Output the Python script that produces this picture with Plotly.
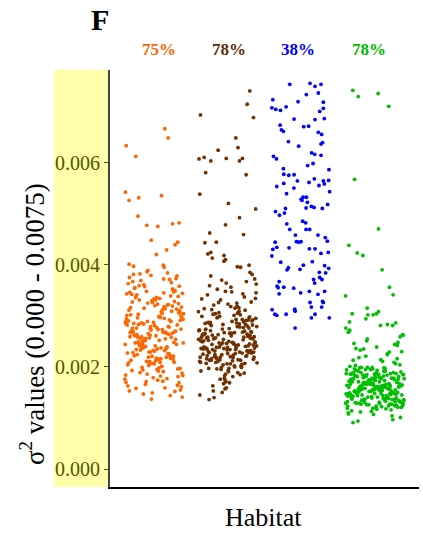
import plotly.graph_objects as go

# ---------------- data ----------------
percent_labels = ["75%", "78%", "38%", "78%"]

y_ticks = [0.000, 0.002, 0.004, 0.006]
y_tick_labels = ["0.000", "0.002", "0.004", "0.006"]

# habitat 1 (orange): scattered high values with their horizontal offsets
orange_sparse_dx = [0.145, 0.19, -0.38, -0.25, -0.39, -0.34, -0.21, 0.10, -0.22, -0.10, 0.05,
                    0.25, 0.34, -0.04, 0.32, 0.285, 0.17, 0.03, -0.34, -0.28, 0.125, 0.135]
orange_sparse_y = [0.00666, 0.00648, 0.00633, 0.00612, 0.00542, 0.00526, 0.00531, 0.00535, 0.00495,
                   0.00477, 0.00475, 0.00480, 0.00482, 0.00448, 0.00444, 0.00439, 0.00429, 0.00420,
                   0.00401, 0.00397, 0.00399, 0.00395]
orange_dense_y = [
    0.00384, 0.00251, 0.00317, 0.00198, 0.00276, 0.00352, 0.00229, 0.00163, 0.00295, 0.00243,
    0.00338, 0.00212, 0.00269, 0.00371, 0.00186, 0.00304, 0.00237, 0.00283, 0.00152, 0.00326,
    0.00259, 0.00219, 0.00361, 0.00291, 0.00174, 0.00247, 0.00309, 0.00205, 0.00343, 0.00268,
    0.00233, 0.00378, 0.00281, 0.00193, 0.00322, 0.00256, 0.00141, 0.00299, 0.00224, 0.00347,
    0.00272, 0.00208, 0.00314, 0.00245, 0.00169, 0.00336, 0.00263, 0.00217, 0.00389, 0.00288,
    0.00201, 0.00331, 0.00254, 0.00179, 0.00302, 0.00239, 0.00357, 0.00274, 0.00215, 0.00158,
    0.00319, 0.00262, 0.00227, 0.00345, 0.00286, 0.00196, 0.00241, 0.00367, 0.00278, 0.00211,
    0.00293, 0.00182, 0.00249, 0.00328, 0.00221, 0.00375, 0.00266, 0.00147, 0.00307, 0.00235,
    0.00355, 0.00258, 0.00203, 0.00284, 0.00312, 0.00189, 0.00244, 0.00333, 0.00271, 0.00226,
    0.00166, 0.00297, 0.00252, 0.00341, 0.00214, 0.00279, 0.00363, 0.00232, 0.00199, 0.00324,
    0.00261, 0.00381, 0.00223, 0.00289, 0.00176, 0.00308, 0.00246, 0.00349, 0.00207, 0.00267,
    0.00238, 0.00315, 0.00155, 0.00273, 0.00336, 0.00218, 0.00257, 0.00301, 0.00191, 0.00369,
    0.00282, 0.00231, 0.00327, 0.00264, 0.00171, 0.00344, 0.00209, 0.00296, 0.00248, 0.00137,
    0.00311, 0.00255, 0.00194, 0.00358, 0.00277, 0.00222, 0.00339, 0.00265, 0.00184, 0.00305,
    0.00242, 0.00373, 0.00287, 0.00213, 0.00321, 0.00253, 0.00161, 0.00298, 0.00234, 0.00352,
    0.00275, 0.00204, 0.00318, 0.00259, 0.00181, 0.00331, 0.00228, 0.00292, 0.00386, 0.00247,
    0.00216, 0.00303, 0.00269, 0.00149, 0.00346, 0.00236, 0.00284, 0.00197, 0.00323, 0.00261,
    0.00365, 0.00229, 0.00294, 0.00172, 0.00256, 0.00313, 0.00206, 0.00342, 0.00279, 0.00240,
    0.00188, 0.00334, 0.00263, 0.00221, 0.00379, 0.00290, 0.00159, 0.00250, 0.00306, 0.00217,
    0.00285, 0.00144, 0.00325, 0.00244, 0.00201, 0.00359, 0.00270, 0.00232, 0.00316, 0.00177,
    0.00255, 0.00300, 0.00192, 0.00337, 0.00266, 0.00211, 0.00282, 0.00372, 0.00239, 0.00164,
    0.00320, 0.00276, 0.00226, 0.00348, 0.00183, 0.00297, 0.00258, 0.00209, 0.00329, 0.00153,
    0.00268, 0.00237, 0.00310, 0.00195, 0.00354, 0.00289, 0.00219, 0.00170, 0.00273, 0.00382,
]

# habitat 2 (brown)
brown_sparse_dx = [0.30, 0.265, 0.35, -0.37, 0.11, 0.14, -0.13, -0.39, -0.32, -0.23, -0.02,
                   0.16, 0.20, -0.30, 0.25, -0.38, 0.01, 0.38, 0.16, -0.03, -0.245, 0.215,
                   -0.31, -0.155, -0.23, -0.27, -0.21, -0.05, -0.03, -0.05, 0.13, 0.175, 0.29]
brown_sparse_y = [0.00740, 0.00714, 0.00688, 0.00693, 0.00648, 0.00629, 0.00624, 0.00607, 0.00610,
                  0.00603, 0.00608, 0.00603, 0.00608, 0.00580, 0.00576, 0.00538, 0.00520, 0.00509,
                  0.00492, 0.00478, 0.00462, 0.00459, 0.00443, 0.00444, 0.00424, 0.00421, 0.00413,
                  0.00418, 0.00410, 0.00407, 0.00396, 0.00395, 0.00399]
brown_dense_y = [
    0.00372, 0.00248, 0.00213, 0.00291, 0.00167, 0.00236, 0.00305, 0.00224, 0.00268, 0.00197,
    0.00257, 0.00343, 0.00219, 0.00279, 0.00202, 0.00312, 0.00241, 0.00186, 0.00264, 0.00229,
    0.00296, 0.00215, 0.00356, 0.00252, 0.00207, 0.00274, 0.00145, 0.00238, 0.00321, 0.00261,
    0.00226, 0.00285, 0.00199, 0.00247, 0.00334, 0.00218, 0.00271, 0.00231, 0.00178, 0.00299,
    0.00243, 0.00209, 0.00381, 0.00266, 0.00222, 0.00288, 0.00195, 0.00254, 0.00315, 0.00234,
    0.00276, 0.00159, 0.00239, 0.00302, 0.00211, 0.00259, 0.00347, 0.00228, 0.00283, 0.00204,
    0.00251, 0.00319, 0.00221, 0.00269, 0.00191, 0.00237, 0.00293, 0.00214, 0.00362, 0.00245,
    0.00281, 0.00232, 0.00174, 0.00262, 0.00309, 0.00217, 0.00255, 0.00206, 0.00287, 0.00337,
    0.00224, 0.00272, 0.00242, 0.00153, 0.00298, 0.00233, 0.00265, 0.00201, 0.00326, 0.00249,
    0.00212, 0.00284, 0.00367, 0.00236, 0.00258, 0.00189, 0.00304, 0.00227, 0.00275, 0.00216,
    0.00253, 0.00331, 0.00208, 0.00267, 0.00244, 0.00292, 0.00171, 0.00235, 0.00278, 0.00352,
    0.00229, 0.00261, 0.00197, 0.00311, 0.00247, 0.00219, 0.00286, 0.00140, 0.00256, 0.00323,
    0.00273, 0.00205, 0.00239, 0.00295, 0.00223, 0.00378, 0.00264, 0.00183, 0.00249, 0.00307,
    0.00218, 0.00282, 0.00234, 0.00341, 0.00258, 0.00199, 0.00271, 0.00226, 0.00163, 0.00296,
    0.00246, 0.00314, 0.00213, 0.00263, 0.00237, 0.00289, 0.00359, 0.00221, 0.00254, 0.00192,
    0.00279, 0.00231, 0.00327, 0.00250, 0.00207, 0.00268, 0.00176, 0.00241, 0.00301, 0.00216,
    0.00260, 0.00348, 0.00225, 0.00284, 0.00196, 0.00243, 0.00318, 0.00230, 0.00270, 0.00150,
    0.00211, 0.00293, 0.00255, 0.00385, 0.00238, 0.00265, 0.00203, 0.00306, 0.00248, 0.00181,
    0.00287, 0.00222, 0.00267, 0.00333, 0.00214, 0.00257, 0.00290, 0.00169, 0.00235, 0.00277,
    0.00244, 0.00308, 0.00200, 0.00262, 0.00228, 0.00364, 0.00251, 0.00185, 0.00297, 0.00219,
    0.00266, 0.00136, 0.00240, 0.00283, 0.00209, 0.00325, 0.00256, 0.00232, 0.00194, 0.00274,
    0.00227, 0.00299, 0.00345, 0.00247, 0.00213, 0.00280, 0.00157, 0.00263, 0.00316, 0.00238,
    0.00292, 0.00220, 0.00258, 0.00188, 0.00370, 0.00272, 0.00234, 0.00303, 0.00245, 0.00206,
]

# habitat 3 (blue): every point with its horizontal offset
blue_dx = [
    -0.157, 0.119, 0.187, 0.268, 0.069, 0.232, -0.387, -0.044, 0.300, -0.400,
    -0.347, -0.283, -0.206, 0.250, 0.300, -0.098, 0.187, 0.313, -0.287, 0.033,
    0.100, -0.270, -0.243, 0.232, 0.277, -0.175, -0.035, 0.268, 0.290, -0.378,
    -0.337, 0.141, 0.182, 0.268, 0.087, 0.160, -0.243, -0.238, -0.170, -0.098,
    -0.053, 0.376, -0.333, -0.238, 0.105, 0.177, 0.240, 0.300, 0.313, 0.372,
    -0.200, -0.100, 0.385, -0.003, 0.024, 0.069, 0.010, 0.083, 0.358, -0.215,
    -0.351, -0.297, -0.229, 0.065, 0.137, 0.173, 0.286, -0.197, 0.019, 0.060,
    -0.157, 0.065, 0.114, -0.080, 0.227, 0.327, 0.354, -0.355, -0.066, -0.035,
    -0.003, -0.333, -0.387, -0.166, 0.110, 0.187, 0.268, 0.367, -0.400, -0.279,
    0.150, -0.193, -0.175, -0.017, 0.028, 0.317, 0.372, 0.245, 0.331, 0.250,
    0.281, 0.168, 0.182, -0.301, -0.328, -0.315, -0.238, -0.103, -0.301, -0.008,
    0.110, 0.227, 0.317, 0.119, 0.290, 0.299, 0.137, 0.277, -0.396, -0.089,
    -0.084, -0.360, -0.333, -0.206, 0.187, 0.137, 0.381, -0.084,
]
blue_y = [
    0.00753, 0.00755, 0.00749, 0.00753, 0.00733, 0.00736, 0.00723, 0.00719, 0.00718, 0.00707,
    0.00704, 0.00702, 0.00709, 0.00700, 0.00706, 0.00685, 0.00684, 0.00686, 0.00673, 0.00670,
    0.00671, 0.00664, 0.00661, 0.00659, 0.00655, 0.00641, 0.00632, 0.00636, 0.00639, 0.00612,
    0.00607, 0.00619, 0.00616, 0.00614, 0.00594, 0.00598, 0.00588, 0.00577, 0.00575, 0.00576,
    0.00564, 0.00586, 0.00553, 0.00559, 0.00561, 0.00568, 0.00555, 0.00564, 0.00558, 0.00565,
    0.00539, 0.00550, 0.00543, 0.00528, 0.00532, 0.00532, 0.00526, 0.00522, 0.00518, 0.00510,
    0.00504, 0.00497, 0.00501, 0.00511, 0.00514, 0.00512, 0.00510, 0.00480, 0.00485, 0.00482,
    0.00469, 0.00469, 0.00469, 0.00458, 0.00458, 0.00453, 0.00446, 0.00444, 0.00445, 0.00444,
    0.00445, 0.00434, 0.00430, 0.00433, 0.00431, 0.00431, 0.00422, 0.00424, 0.00417, 0.00405,
    0.00406, 0.00390, 0.00394, 0.00391, 0.00399, 0.00398, 0.00393, 0.00385, 0.00384, 0.00375,
    0.00371, 0.00371, 0.00364, 0.00367, 0.00358, 0.00355, 0.00356, 0.00354, 0.00343, 0.00345,
    0.00348, 0.00342, 0.00348, 0.00326, 0.00328, 0.00326, 0.00317, 0.00317, 0.00312, 0.00313,
    0.00309, 0.00303, 0.00301, 0.00303, 0.00303, 0.00296, 0.00296, 0.00276,
]

# habitat 4 (green)
green_sparse_dx = [-0.299, -0.226, 0.045, 0.189, -0.276, 0.049, -0.353, -0.240, -0.163, 0.099,
                   0.198, 0.248, -0.398, -0.104, -0.308, -0.095, -0.023, 0.022, 0.049, -0.122,
                   -0.344, 0.076, 0.171, 0.284]
green_sparse_y = [0.00741, 0.00729, 0.00735, 0.00710, 0.00567, 0.00470, 0.00438, 0.00423, 0.00418,
                  0.00390, 0.00356, 0.00341, 0.00339, 0.00315, 0.00304, 0.00302, 0.00302, 0.00304,
                  0.00308, 0.00294, 0.00288, 0.00281, 0.00283, 0.00286]
green_dense_y = [
    0.00174, 0.00132, 0.00198, 0.00156, 0.00121, 0.00185, 0.00143, 0.00166, 0.00251, 0.00128,
    0.00161, 0.00192, 0.00137, 0.00178, 0.00149, 0.00118, 0.00169, 0.00204, 0.00141, 0.00183,
    0.00153, 0.00126, 0.00187, 0.00162, 0.00233, 0.00139, 0.00176, 0.00114, 0.00158, 0.00195,
    0.00145, 0.00171, 0.00129, 0.00189, 0.00152, 0.00268, 0.00136, 0.00165, 0.00181, 0.00123,
    0.00177, 0.00148, 0.00199, 0.00134, 0.00163, 0.00218, 0.00155, 0.00119, 0.00186, 0.00144,
    0.00168, 0.00131, 0.00159, 0.00193, 0.00104, 0.00174, 0.00147, 0.00182, 0.00127, 0.00242,
    0.00157, 0.00188, 0.00138, 0.00166, 0.00125, 0.00179, 0.00151, 0.00209, 0.00142, 0.00172,
    0.00133, 0.00184, 0.00161, 0.00117, 0.00196, 0.00146, 0.00173, 0.00276, 0.00154, 0.00129,
    0.00187, 0.00164, 0.00140, 0.00226, 0.00158, 0.00121, 0.00180, 0.00150, 0.00097, 0.00169,
    0.00143, 0.00191, 0.00135, 0.00176, 0.00160, 0.00213, 0.00127, 0.00167, 0.00185, 0.00148,
    0.00171, 0.00124, 0.00155, 0.00201, 0.00139, 0.00183, 0.00259, 0.00162, 0.00130, 0.00178,
    0.00152, 0.00194, 0.00144, 0.00112, 0.00170, 0.00186, 0.00137, 0.00157, 0.00221, 0.00165,
    0.00128, 0.00181, 0.00149, 0.00175, 0.00108, 0.00197, 0.00159, 0.00134, 0.00189, 0.00246,
    0.00163, 0.00141, 0.00177, 0.00122, 0.00154, 0.00206, 0.00168, 0.00146, 0.00184, 0.00131,
    0.00190, 0.00156, 0.00236, 0.00136, 0.00172, 0.00119, 0.00164, 0.00199, 0.00150, 0.00180,
    0.00142, 0.00167, 0.00126, 0.00185, 0.00158, 0.00094, 0.00175, 0.00139, 0.00272, 0.00160,
    0.00179, 0.00133, 0.00193, 0.00153, 0.00116, 0.00170, 0.00147, 0.00211, 0.00162, 0.00125,
    0.00155, 0.00186, 0.00140, 0.00169, 0.00230, 0.00131, 0.00182, 0.00150, 0.00195, 0.00110,
    0.00173, 0.00145, 0.00161, 0.00120, 0.00188, 0.00157, 0.00255, 0.00136, 0.00177, 0.00151,
    0.00132, 0.00196, 0.00166, 0.00143, 0.00183, 0.00101, 0.00159, 0.00203, 0.00127, 0.00174,
    0.00164, 0.00138, 0.00189, 0.00216, 0.00148, 0.00171, 0.00124, 0.00181, 0.00263, 0.00154,
    0.00144, 0.00178, 0.00113, 0.00160, 0.00192, 0.00135, 0.00167, 0.00239, 0.00152, 0.00187,
    0.00170, 0.00129, 0.00158, 0.00198, 0.00146, 0.00107, 0.00176, 0.00224, 0.00137, 0.00163,
    0.00185, 0.00149, 0.00281, 0.00166, 0.00123, 0.00192, 0.00156, 0.00248, 0.00174, 0.00091,
    0.00229, 0.00185, 0.00262, 0.00214, 0.00157, 0.00244, 0.00199, 0.00271, 0.00166, 0.00235,
]

# ---------------- styling ----------------
SERIF = "Liberation Serif"
point_colors = ["#FF6600", "#6F3100", "#0000FF", "#00BF00"]
label_colors = ["#FF6600", "#5C2E0A", "#0000FF", "#00BB00"]
STRIP = 0.4  # half-width of the jitter strip, in category units


def strip_offsets(n, phase):
    """Even, deterministic spread of n horizontal offsets across the strip."""
    golden = 0.6180339887
    return [STRIP * (2.0 * (((i + 1) * golden + phase) % 1.0) - 1.0) for i in range(n)]


groups = [
    (orange_sparse_dx, orange_sparse_y, orange_dense_y),
    (brown_sparse_dx, brown_sparse_y, brown_dense_y),
    (blue_dx, blue_y, []),
    (green_sparse_dx, green_sparse_y, green_dense_y),
]

fig = go.Figure()
for k, (sdx, sy, dy) in enumerate(groups):
    pos = k + 1
    offsets = list(sdx) + strip_offsets(len(dy), 0.23 * k + 0.11)
    values = list(sy) + list(dy)
    fig.add_trace(go.Scatter(
        x=[pos + d for d in offsets],
        y=values,
        mode="markers",
        marker=dict(color=point_colors[k], size=3.8, line=dict(width=0)),
        showlegend=False,
        hoverinfo="y",
    ))

annotations = [
    dict(text="<b>F</b>", x=-0.033, y=1.12, xref="paper", yref="paper",
         showarrow=False, xanchor="center", yanchor="middle",
         font=dict(family=SERIF, size=30, color="black")),
    dict(text="Habitat", x=0.497, y=-0.072, xref="paper", yref="paper",
         showarrow=False, xanchor="center", yanchor="middle",
         font=dict(family=SERIF, size=26, color="black")),
    dict(text="σ<sup>2</sup> values (0.000 - 0.0075)", x=-0.25, y=0.39,
         xref="paper", yref="paper", textangle=-90, showarrow=False,
         xanchor="center", yanchor="middle",
         font=dict(family=SERIF, size=27, color="black")),
]
label_x = [0.1595, 0.385, 0.610, 0.837]
for k, txt in enumerate(percent_labels):
    annotations.append(dict(
        text=f"<b>{txt}</b>", x=label_x[k], y=1.05, xref="paper", yref="paper",
        showarrow=False, xanchor="center", yanchor="middle",
        font=dict(family=SERIF, size=17, color=label_colors[k]),
    ))

fig.update_layout(
    width=423, height=533,
    margin=dict(l=110, r=4, t=70, b=46),
    paper_bgcolor="white", plot_bgcolor="white",
    font=dict(family=SERIF, color="black"),
    xaxis=dict(range=[0.4, 4.6], showgrid=False, zeroline=False,
               showticklabels=False, ticks="", showline=True,
               linecolor="black", linewidth=2),
    yaxis=dict(range=[-0.00035, 0.00781], showgrid=False, zeroline=False,
               showline=True, linecolor="#444444", linewidth=2,
               ticks="outside", ticklen=4, tickwidth=1, tickcolor="#555500",
               tickvals=y_ticks, ticktext=y_tick_labels,
               tickfont=dict(family=SERIF, size=20, color="#555500")),
    shapes=[dict(type="rect", xref="paper", yref="paper",
                 x0=-0.181, x1=0, y0=0, y1=1,
                 fillcolor="#FFFFAA", line=dict(width=0), layer="below")],
    annotations=annotations,
)

fig.write_html("out.html")
